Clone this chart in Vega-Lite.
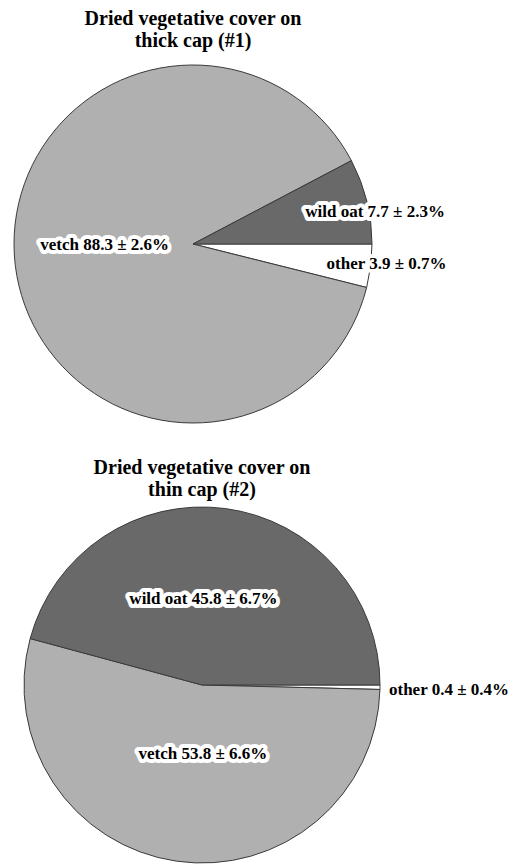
{
  "$schema": "https://vega.github.io/schema/vega-lite/v6.json",
  "padding": {"left": 12, "top": 9, "right": 0, "bottom": 0},
  "background": "white",
  "spacing": 33,
  "config": {
    "view": {"stroke": null},
    "title": {"font": "Liberation Serif", "fontSize": 20, "fontWeight": "bold", "lineHeight": 22, "color": "black", "anchor": "middle", "offset": 12},
    "text": {"font": "Liberation Serif", "fontWeight": "bold", "fontSize": 17, "align": "center", "baseline": "middle"}
  },
  "vconcat": [
    {
      "title": {"text": ["Dried vegetative cover on", "thick cap (#1)"]},
      "width": 358,
      "height": 358,
      "data": {"values": [
        {"cover": "other", "share": 3.9, "se": 0.7, "label": "other  3.9 ± 0.7%"},
        {"cover": "vetch", "share": 88.3, "se": 2.6, "label": "vetch  88.3 ± 2.6%"},
        {"cover": "wild oat", "share": 7.7, "se": 2.3, "label": "wild oat 7.7 ± 2.3%"}
      ]},
      "encoding": {
        "theta": {"field": "share", "type": "quantitative", "stack": true, "scale": {"range": [1.5708, 7.854]}},
        "order": {"field": "cover", "sort": "ascending"},
        "detail": {"field": "cover"}
      },
      "layer": [
        {
          "mark": {"type": "arc", "outerRadius": 179, "stroke": "#3a3a3a", "strokeWidth": 1},
          "encoding": {
            "color": {"field": "cover", "type": "nominal", "legend": null,
              "scale": {"domain": ["other", "vetch", "wild oat"], "range": ["#ffffff", "#b0b0b0", "#696969"]}}
          }
        },
        {
          "mark": {"type": "text", "radius": 89, "dy": -10, "fill": "white", "stroke": "white", "strokeWidth": 8, "strokeJoin": "round"},
          "encoding": {"text": {"condition": {"test": "datum.cover === 'vetch'", "field": "label"}, "value": ""}}
        },
        {
          "mark": {"type": "text", "radius": 89, "dy": -10, "fill": "black"},
          "encoding": {"text": {"condition": {"test": "datum.cover === 'vetch'", "field": "label"}, "value": ""}}
        },
        {
          "mark": {"type": "text", "radius": 170, "dx": 17, "dy": 9, "fill": "white", "stroke": "white", "strokeWidth": 8, "strokeJoin": "round"},
          "encoding": {"text": {"condition": {"test": "datum.cover === 'wild oat'", "field": "label"}, "value": ""}}
        },
        {
          "mark": {"type": "text", "radius": 170, "dx": 17, "dy": 9, "fill": "black"},
          "encoding": {"text": {"condition": {"test": "datum.cover === 'wild oat'", "field": "label"}, "value": ""}}
        },
        {
          "transform": [{"filter": "datum.cover === 'other'"}],
          "mark": {"type": "text", "radius": 195, "dy": -4, "fill": "white", "stroke": "white", "strokeWidth": 8, "strokeJoin": "round"},
          "encoding": {"text": {"field": "label"}}
        },
        {
          "transform": [{"filter": "datum.cover === 'other'"}],
          "mark": {"type": "text", "radius": 195, "dy": -4, "fill": "black"},
          "encoding": {"text": {"field": "label"}}
        }
      ]
    },
    {
      "title": {"text": ["Dried vegetative cover on", "thin cap (#2)"], "offset": 5},
      "width": 376,
      "height": 356,
      "data": {"values": [
        {"cover": "other", "share": 0.4, "se": 0.4, "label": "other  0.4 ± 0.4%"},
        {"cover": "vetch", "share": 53.8, "se": 6.6, "label": "vetch  53.8 ± 6.6%"},
        {"cover": "wild oat", "share": 45.8, "se": 6.7, "label": "wild oat 45.8 ± 6.7%"}
      ]},
      "encoding": {
        "theta": {"field": "share", "type": "quantitative", "stack": true, "scale": {"range": [1.5708, 7.854]}},
        "order": {"field": "cover", "sort": "ascending"},
        "detail": {"field": "cover"}
      },
      "layer": [
        {
          "mark": {"type": "arc", "outerRadius": 178, "stroke": "#3a3a3a", "strokeWidth": 1},
          "encoding": {
            "color": {"field": "cover", "type": "nominal", "legend": null,
              "scale": {"domain": ["other", "vetch", "wild oat"], "range": ["#ffffff", "#b0b0b0", "#696969"]}}
          }
        },
        {
          "mark": {"type": "text", "radius": 87, "dx": -10, "fill": "white", "stroke": "white", "strokeWidth": 8, "strokeJoin": "round"},
          "encoding": {"text": {"condition": {"test": "datum.cover === 'wild oat'", "field": "label"}, "value": ""}}
        },
        {
          "mark": {"type": "text", "radius": 87, "dx": -10, "fill": "black"},
          "encoding": {"text": {"condition": {"test": "datum.cover === 'wild oat'", "field": "label"}, "value": ""}}
        },
        {
          "mark": {"type": "text", "radius": 70, "dx": 11, "fill": "white", "stroke": "white", "strokeWidth": 8, "strokeJoin": "round"},
          "encoding": {"text": {"condition": {"test": "datum.cover === 'vetch'", "field": "label"}, "value": ""}}
        },
        {
          "mark": {"type": "text", "radius": 70, "dx": 11, "fill": "black"},
          "encoding": {"text": {"condition": {"test": "datum.cover === 'vetch'", "field": "label"}, "value": ""}}
        },
        {
          "transform": [{"filter": "datum.cover === 'other'"}],
          "mark": {"type": "text", "radius": 247, "dy": 2, "fill": "white", "stroke": "white", "strokeWidth": 8, "strokeJoin": "round"},
          "encoding": {"text": {"field": "label"}}
        },
        {
          "transform": [{"filter": "datum.cover === 'other'"}],
          "mark": {"type": "text", "radius": 247, "dy": 2, "fill": "black"},
          "encoding": {"text": {"field": "label"}}
        }
      ]
    }
  ]
}
